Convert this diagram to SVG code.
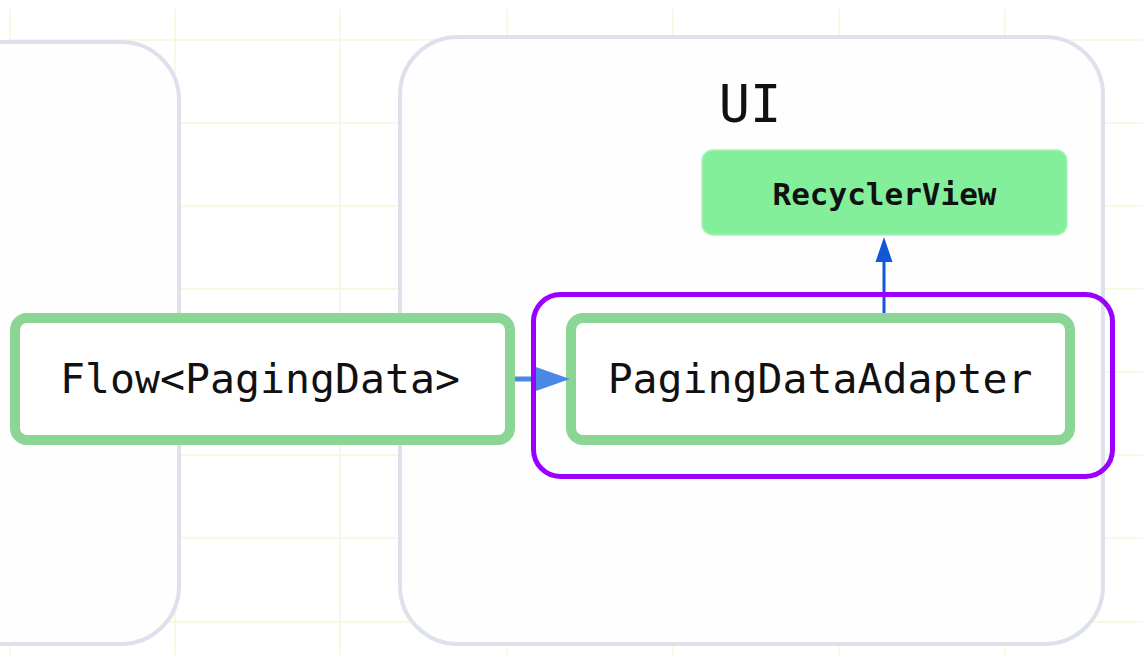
<svg xmlns="http://www.w3.org/2000/svg" width="1143" height="655" viewBox="0 0 1143 655">
  <style>
    .grid { stroke: #f7f9e3; stroke-width: 2; }
    .container { fill: #fefefe; stroke: #dde1ec; stroke-width: 4; }
    .node { fill: #ffffff; stroke: #8bd595; stroke-width: 10; }
    .label { font-family: "DejaVu Sans Mono", "Liberation Mono", monospace; fill: #111111; text-anchor: middle; }
    .rv { fill: #84ef9a; stroke: #a6f4b6; stroke-width: 1.5; }
  </style>
  <rect x="0" y="0" width="1143" height="655" fill="#ffffff"/>
  <g id="grid">
    <line class="grid" x1="10" y1="9" x2="10" y2="655"/>
    <line class="grid" x1="175" y1="9" x2="175" y2="655"/>
    <line class="grid" x1="340" y1="9" x2="340" y2="655"/>
    <line class="grid" x1="507" y1="9" x2="507" y2="655"/>
    <line class="grid" x1="673" y1="9" x2="673" y2="655"/>
    <line class="grid" x1="839" y1="9" x2="839" y2="655"/>
    <line class="grid" x1="1005" y1="9" x2="1005" y2="655"/>
    <line class="grid" x1="9" y1="40" x2="1143" y2="40"/>
    <line class="grid" x1="9" y1="123" x2="1143" y2="123"/>
    <line class="grid" x1="9" y1="206" x2="1143" y2="206"/>
    <line class="grid" x1="9" y1="289" x2="1143" y2="289"/>
    <line class="grid" x1="9" y1="372" x2="1143" y2="372"/>
    <line class="grid" x1="9" y1="455" x2="1143" y2="455"/>
    <line class="grid" x1="9" y1="538" x2="1143" y2="538"/>
    <line class="grid" x1="9" y1="622" x2="1143" y2="622"/>
  </g>
  <g id="container-left">
    <rect class="container" x="-120" y="42" width="299" height="602" rx="58"/>
  </g>
  <g id="container-ui">
    <rect class="container" x="400" y="37" width="703" height="607" rx="58"/>
    <text class="label" x="750" y="122" font-size="52">UI</text>
  </g>
  <g id="node-recyclerview">
    <rect class="rv" x="702" y="150" width="365" height="85" rx="11"/>
    <text class="label" x="884.5" y="205" font-size="31" font-weight="bold">RecyclerView</text>
  </g>
  <g id="node-flow">
    <rect class="node" x="15" y="318" width="495" height="122" rx="12"/>
    <text class="label" x="260" y="393" font-size="41.5">Flow&lt;PagingData&gt;</text>
  </g>
  <g id="node-adapter">
    <rect class="node" x="571" y="318" width="499" height="122" rx="12"/>
    <text class="label" x="820" y="393" font-size="41.5">PagingDataAdapter</text>
  </g>
  <g id="connectors">
    <line x1="515" y1="379" x2="536" y2="379" stroke="#4a88e6" stroke-width="5"/>
    <path d="M533,366 L570,379 L533,392 Z" fill="#4a88e6"/>
    <line x1="884" y1="313" x2="884" y2="258" stroke="#1158d8" stroke-width="3"/>
    <path d="M875.5,262 L884,237 L892.5,262 Z" fill="#1158d8"/>
  </g>
  <g id="highlight">
    <rect x="533.5" y="294.5" width="579" height="182" rx="27" fill="none" stroke="#9b00ff" stroke-width="5"/>
  </g>
</svg>
